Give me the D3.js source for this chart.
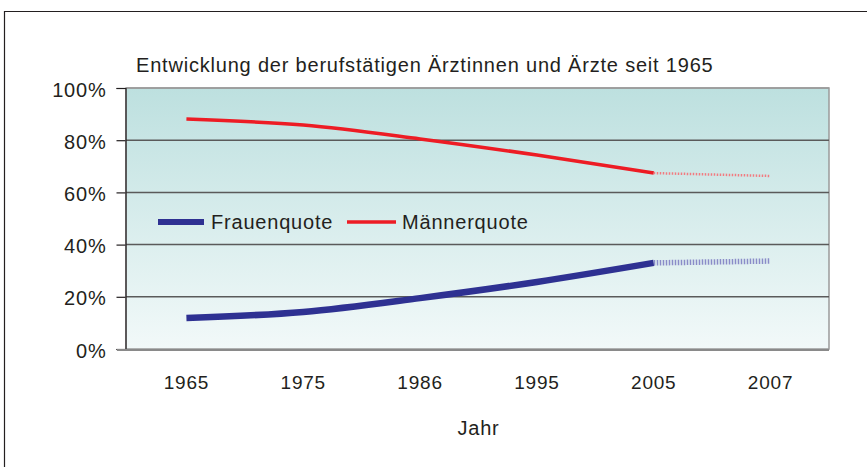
<!DOCTYPE html>
<html>
<head>
<meta charset="utf-8">
<script src="https://cdn.jsdelivr.net/npm/d3@7"></script>
<style>
  body { margin: 0; background: #fff; }
  text { font-family: "Liberation Sans", Arial, sans-serif; fill: #231f20; letter-spacing: 0.8px; }
</style>
</head>
<body>
<div id="app"></div>
<script>
// data
const years = ["1965", "1975", "1986", "1995", "2005", "2007"];
const frauen = [11.9, 14.2, 19.5, 25.7, 33.0, 33.7];
const maenner = [88.1, 85.8, 80.5, 74.3, 67.4, 66.3];
const yTicks = [0, 20, 40, 60, 80, 100];
const seriesNames = ["Frauenquote", "Männerquote"];

let width = 867,
    height = 467;

const plot = {left: 126, right: 829, top: 88, bottom: 349};

const svg = d3.select("#app").append("svg")
    .attr("width", width)
    .attr("height", height);

const defs = svg.append("defs");
const grad = defs.append("linearGradient")
    .attr("id", "bg")
    .attr("x1", 0).attr("y1", 0).attr("x2", 0).attr("y2", 1);
grad.append("stop").attr("offset", "0%").attr("stop-color", "#bde0df");
grad.append("stop").attr("offset", "100%").attr("stop-color", "#f2f9f9");

// outer frame
svg.append("path")
    .attr("d", `M4.5,${height} V11.5 H${width}`)
    .attr("fill", "none")
    .attr("stroke", "#231f20")
    .attr("stroke-width", 1.2);

const x = d3.scaleBand()
    .domain(years)
    .range([plot.left + 2, plot.right]);

const y = d3.scaleLinear()
    .domain([0, 100])
    .range([plot.bottom, plot.top]);

// plot background
svg.append("rect")
    .attr("x", plot.left)
    .attr("y", plot.top)
    .attr("width", plot.right - plot.left)
    .attr("height", plot.bottom - plot.top)
    .attr("fill", "url(#bg)")
    .attr("stroke", "#9a9a9a")
    .attr("stroke-width", 1.5);

// gridlines
svg.append("g")
    .selectAll("line")
    .data(yTicks.filter(d => d > 0))
    .join("line")
    .attr("x1", plot.left)
    .attr("x2", plot.right)
    .attr("y1", d => y(d))
    .attr("y2", d => y(d))
    .attr("stroke", d => d === 100 ? "#9a9a9a" : "#5a5a5a")
    .attr("stroke-width", 1.5);

// y axis
const yAxis = d3.axisLeft(y)
    .tickValues(yTicks)
    .tickFormat(d => d + "%")
    .tickSize(9)
    .tickPadding(10);

const yg = svg.append("g")
    .attr("transform", `translate(${plot.left - 0.5},0)`)
    .call(yAxis);
yg.select(".domain").attr("stroke", "#231f20").attr("stroke-width", 1.2);
yg.selectAll(".tick line").attr("stroke", "#231f20").attr("stroke-width", 1.2);
yg.selectAll(".tick text")
    .attr("font-size", 20)
    .attr("dy", "0.4em")
    .attr("font-family", "Liberation Sans, Arial, sans-serif")
    .attr("fill", "#231f20");

// x axis bottom line
svg.append("line")
    .attr("x1", plot.left - 9)
    .attr("x2", plot.right)
    .attr("y1", plot.bottom + 1)
    .attr("y2", plot.bottom + 1)
    .attr("stroke", "#8a8a8a")
    .attr("stroke-width", 2);

// x labels
const xAxis = d3.axisBottom(x).tickSize(0).tickPadding(0);
const xg = svg.append("g")
    .attr("transform", `translate(0,375.5)`)
    .call(xAxis);
xg.select(".domain").remove();
xg.selectAll(".tick text")
    .attr("font-size", 19)
    .attr("font-family", "Liberation Sans, Arial, sans-serif")
    .attr("fill", "#231f20");

// lines
const cx = d => x(d) + x.bandwidth() / 2;
const line = d3.line()
    .x(d => cx(d[0]))
    .y(d => y(d[1]))
    .curve(d3.curveMonotoneX);

const drawSeries = (values, color, w, dotted) => {
    const pts = years.map((yr, i) => [yr, values[i]]);
    svg.append("path")
        .datum(pts.slice(0, 5))
        .attr("d", line)
        .attr("fill", "none")
        .attr("stroke", color)
        .attr("stroke-width", w);
    svg.append("path")
        .datum(pts.slice(4))
        .attr("d", line)
        .attr("fill", "none")
        .attr("stroke", dotted)
        .attr("stroke-width", w - 1)
        .attr("stroke-dasharray", "1.5,1.5");
};

drawSeries(frauen, "#2e3192", 6.5, "#8a8cc8");
drawSeries(maenner, "#ed1c24", 3.5, "#f27b80");

// legend
const legend = svg.append("g");
const legendItems = [
    {name: seriesNames[0], color: "#2e3192", w: 6, x1: 158, x2: 204, tx: 211},
    {name: seriesNames[1], color: "#ed1c24", w: 3.5, x1: 347, x2: 396, tx: 402}
];
legendItems.forEach(it => {
    legend.append("line")
        .attr("x1", it.x1).attr("x2", it.x2)
        .attr("y1", 222).attr("y2", 222)
        .attr("stroke", it.color)
        .attr("stroke-width", it.w);
    legend.append("text")
        .attr("x", it.tx)
        .attr("y", 229)
        .attr("font-size", 20)
        .text(it.name);
});

// title
svg.append("text")
    .attr("x", 136)
    .attr("y", 72)
    .attr("font-size", 20)
    .text("Entwicklung der berufstätigen Ärztinnen und Ärzte seit 1965");

// x axis title
svg.append("text")
    .attr("x", x("1995"))
    .attr("y", 435)
    .attr("text-anchor", "middle")
    .attr("font-size", 20)
    .text("Jahr");
</script>
</body>
</html>
